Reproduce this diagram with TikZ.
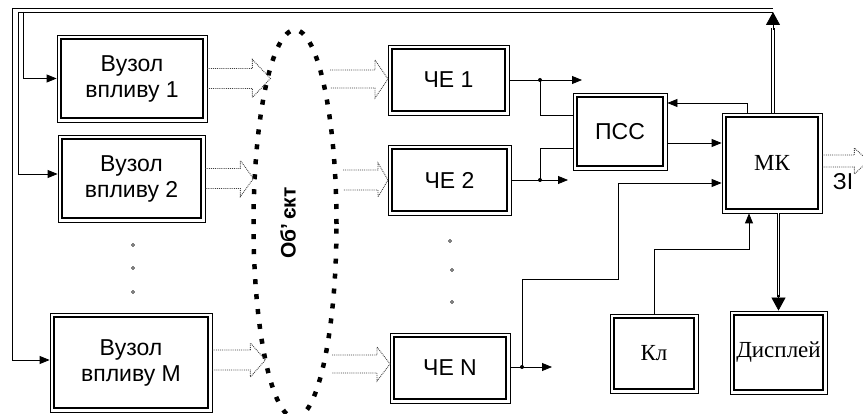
\documentclass[tikz,border=0pt]{standalone}
\usepackage{fontspec}
\setmainfont{Liberation Serif}
\setsansfont{Liberation Sans}
\usetikzlibrary{arrows.meta,shapes.geometric,calc}

\newcommand\dbx[6]{% name, pos, width, height, font, text
  \node[box, minimum width=#3pt, minimum height=#4pt, font=#5] (#1) at #2 {#6};
  \draw[line width=1.9pt] ([shift={(4pt,4pt)}]#1.south west) rectangle ([shift={(-4pt,-4pt)}]#1.north east);}
\newcommand\harrow[5]{% start, half shaft, shaft length, half head, head length
  \draw[hol] (#1) ++(0,-#2) -- ++(#3,0) -- ++(0,#2-#4) -- ++(#5,#4) -- ++(-#5,#4) -- ++(0,#2-#4) -- ++(-#3,0);}
\newcommand\sfbig{\sffamily\fontsize{23}{26}\selectfont}
\newcommand\rmbig{\rmfamily\fontsize{23}{26}\selectfont}

\begin{document}
\begin{tikzpicture}[x=1pt,y=-1pt,
  box/.style={draw, line width=0.8pt, inner sep=0pt, align=center},
  hol/.style={densely dotted, line width=0.9pt, black!75},
  ln/.style={line width=0.8pt},
  arr/.style={line width=0.8pt, -{Triangle[length=10pt,width=8pt]}},
  thk/.style={line width=1pt, double=white, double distance=1.8pt},
  thkhead/.style={line width=0.8pt, -{Triangle[length=13pt,width=14pt]}},
  sdot/.style={line width=0.7pt}]
\useasboundingbox (0,0) rectangle (863,414);

% boxes
\dbx{v1}{(132,78.5)}{150}{87}{\sfbig}{Вузол\\впливу 1}
\dbx{v2}{(131.5,178.5)}{147}{87}{\sfbig}{Вузол\\впливу 2}
\dbx{vM}{(131,362.5)}{162}{99}{\sfbig}{Вузол\\впливу M}
\dbx{che1}{(448.5,80)}{121}{70}{\sfbig}{ЧЕ 1}
\dbx{che2}{(449.5,180)}{123}{70}{\sfbig}{ЧЕ 2}
\dbx{cheN}{(450,368)}{120}{70}{\sfbig}{ЧЕ N}
\dbx{pss}{(620,131.5)}{94}{77}{\sfbig}{ПСС}
\dbx{mk}{(772,163)}{100}{100}{\rmbig}{МК}
\dbx{kl}{(654,353.5)}{88}{79}{\rmbig}{Кл}
\dbx{disp}{(778.5,352.5)}{97}{83}{\rmbig}{Дисплей}

% object ellipse
\node[draw, ellipse, minimum width=83pt, minimum height=388pt, inner sep=0pt,
      line width=4.5pt, dash pattern=on 5pt off 10pt] (obj) at (295,224) {};
\node[rotate=90, font=\sffamily\bfseries\fontsize{21}{24}\selectfont] (objl) at (288,223) {Об'\,єкт};

% hollow dotted arrows
\harrow{v1.east}{10}{45}{19}{18}
\harrow{v2.east}{10}{35}{18}{13}
\coordinate (sM) at ($(vM.east)+(0,2.5pt)$);
\harrow{sM}{10}{38}{17}{15}
\coordinate (s1) at (330,79);
\harrow{s1}{9}{45}{19}{13}
\coordinate (s2) at (343,180);
\harrow{s2}{10}{35}{17}{10}
\coordinate (sN) at (332,364);
\harrow{sN}{9}{45}{17}{13}
\coordinate (sZ) at ($(mk.east)+(0,2pt)$);
\harrow{sZ}{6}{32}{13}{14}
\node[font=\sfbig] (zi) at (843,182) {ЗІ};

% top bus and feeders
\draw[ln] (12,8) -- (773,8);
\draw[ln] (18,12) -- (773,12);
\draw[arr] (23,12) |- (v1.west);
\draw[arr] (18,12) |- ([yshift=4.5pt]v2.west);
\draw[arr] (12,8) |- ([yshift=2.5pt]vM.west);

% MK to bus
\coordinate (mkt) at (773,12);
\draw[thk] (mk.north -| mkt) -- (773,28);
\draw[thkhead] (773,30) -- (mkt);

% MK to display
\draw[thk] (disp.north |- mk.south) -- ($(disp.north)+(0,14pt)$);
\draw[thkhead] ($(disp.north)+(0,16pt)$) -- (disp.north);

% CHE outputs
\coordinate (j1) at (540,80);
\coordinate (o1) at (582,80);
\draw[arr] (che1.east) -- (o1);
\draw[ln] (j1) |- (pss.west |- 0,115);
\fill (j1) circle (2pt);

\coordinate (j2) at (540,180);
\coordinate (o2) at (568,180);
\draw[arr] (che2.east) -- (o2);
\draw[ln] (j2) |- (pss.west |- 0,148);
\fill (j2) circle (2pt);

\coordinate (jN) at (522,367);
\coordinate (oN) at (552,367);
\draw[arr] (cheN.east |- jN) -- (oN);
\draw[arr] (jN) |- (618,279) |- (mk.west |- 0,183);
\fill (jN) circle (2pt);

% PSS <-> MK
\draw[arr] (pss.east |- 0,143) -- (mk.west |- 0,143);
\draw[arr] (mk.north -| 747,0) |- (pss.east |- 0,103);

% Kl to MK
\draw[arr] (kl.north) |- (749,249) -- (mk.south -| 749,0);

% ellipsis dots
\foreach \p in {(133,245),(133,268),(133,292),(450,241),(452,270),(452,302)}
  \draw[sdot] \p circle (1.5pt);
\end{tikzpicture}
\end{document}
